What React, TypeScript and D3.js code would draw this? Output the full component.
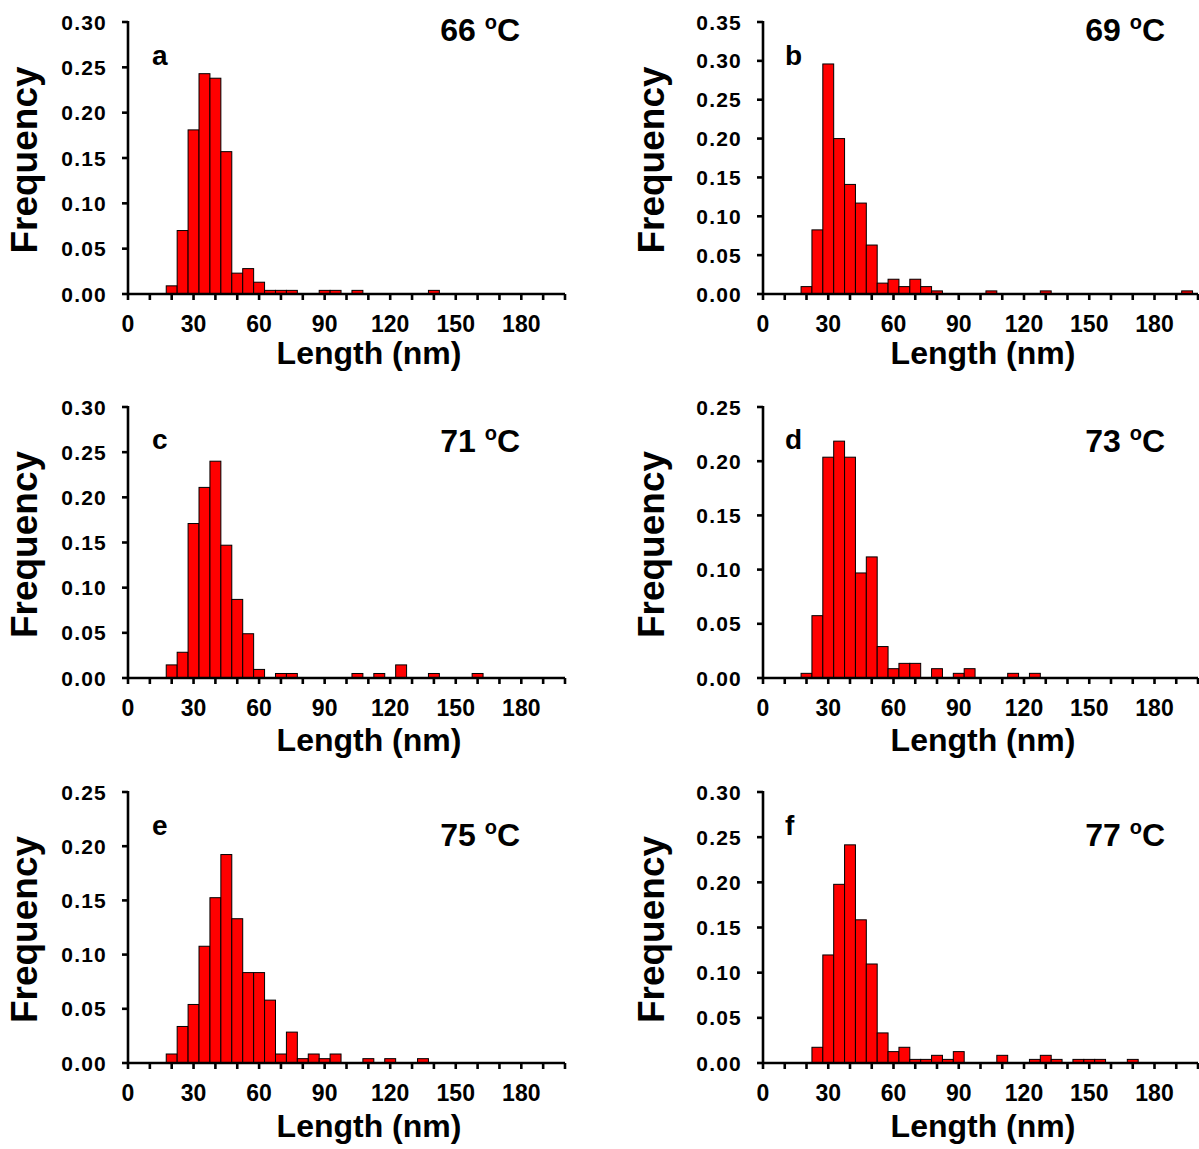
import React from 'react';
import * as d3 from 'd3';

// bin centres (nm) and frequencies
const binsA = [20, 25, 30, 35, 40, 45, 50, 55, 60, 65, 70, 75, 90, 95, 105, 140];
const freqA = [0.009, 0.07, 0.181, 0.243, 0.238, 0.157, 0.023, 0.028, 0.013, 0.004, 0.004, 0.004, 0.004, 0.004, 0.004, 0.004];

const binsB = [20, 25, 30, 35, 40, 45, 50, 55, 60, 65, 70, 75, 80, 105, 130, 195];
const freqB = [0.0095, 0.0825, 0.296, 0.2, 0.141, 0.117, 0.063, 0.014, 0.019, 0.0095, 0.019, 0.0095, 0.004, 0.004, 0.004, 0.004];

const binsC = [20, 25, 30, 35, 40, 45, 50, 55, 60, 70, 75, 105, 115, 125, 140, 160];
const freqC = [0.0145, 0.0285, 0.171, 0.211, 0.24, 0.147, 0.087, 0.049, 0.0095, 0.005, 0.005, 0.005, 0.005, 0.0145, 0.005, 0.005];

const binsD = [20, 25, 30, 35, 40, 45, 50, 55, 60, 65, 70, 80, 90, 95, 115, 125];
const freqD = [0.0043, 0.0575, 0.2037, 0.2185, 0.2037, 0.0969, 0.1117, 0.029, 0.0086, 0.0135, 0.0135, 0.0086, 0.0043, 0.0086, 0.0043, 0.0043];

const binsE = [20, 25, 30, 35, 40, 45, 50, 55, 60, 65, 70, 75, 80, 85, 90, 95, 110, 120, 135];
const freqE = [0.0083, 0.0337, 0.054, 0.1077, 0.1525, 0.1923, 0.1331, 0.0834, 0.0834, 0.058, 0.0083, 0.0285, 0.004, 0.0083, 0.004, 0.0083, 0.004, 0.004, 0.004];

const binsF = [25, 30, 35, 40, 45, 50, 55, 60, 65, 70, 75, 80, 85, 90, 110, 125, 130, 135, 145, 150, 155, 170];
const freqF = [0.0174, 0.1196, 0.1978, 0.2415, 0.1585, 0.1096, 0.0333, 0.0126, 0.0174, 0.004, 0.004, 0.0085, 0.004, 0.0126, 0.0085, 0.004, 0.0085, 0.004, 0.004, 0.004, 0.004, 0.004];

const letters = ['a', 'b', 'c', 'd', 'e', 'f'];
const temps = ['66', '69', '71', '73', '75', '77'];
const yMaxes = [0.3, 0.35, 0.3, 0.25, 0.25, 0.3];
const xTickLabels = [0, 30, 60, 90, 120, 150, 180];

const allBins = [binsA, binsB, binsC, binsD, binsE, binsF];
const allFreqs = [freqA, freqB, freqC, freqD, freqE, freqF];

/* layout */
const cols = [
  { x0: 128, x1: 565, letterX: 152, tempX: 520, freqX: 37, lenX: 369 },
  { x0: 763, x1: 1198, letterX: 785, tempX: 1165, freqX: 664, lenX: 983 },
];
const rows = [
  { top: 22, base: 294, letterDy: 43, tempDy: 19, lenDy: 70 },
  { top: 407, base: 678, letterDy: 42, tempDy: 45, lenDy: 73 },
  { top: 792, base: 1063, letterDy: 43, tempDy: 54, lenDy: 74 },
];

const font = '"Liberation Sans", Arial, sans-serif';
const red = '#FF0000';

const Panel = ({ i }: { i: number }) => {
  const col = cols[i % 2];
  const row = rows[Math.floor(i / 2)];
  const yMax = yMaxes[i];

  const x = d3.scaleLinear().domain([0, 200]).range([col.x0, col.x1]);
  const y = d3.scaleLinear().domain([0, yMax]).range([row.base, row.top]);

  const yTicks = d3.range(0, yMax + 0.0001, 0.05);
  const xTicks = d3.range(0, 201, 10);
  const bins = allBins[i];
  const freqs = allFreqs[i];

  return (
    <g fontFamily={font} fontWeight="bold" fill="#000">
      {/* bars */}
      {bins.map((b, k) => (
        <rect
          key={k}
          x={x(b - 2.5)}
          y={y(freqs[k])}
          width={x(b + 2.5) - x(b - 2.5)}
          height={row.base - y(freqs[k])}
          fill={red}
          stroke="#000"
          strokeWidth={1}
        />
      ))}

      {/* y axis */}
      <line x1={col.x0} x2={col.x0} y1={row.base + 1} y2={y(yMax) - 1} stroke="#000" strokeWidth={2.6} />
      {yTicks.map((t) => (
        <g key={t}>
          <line x1={col.x0 - 6} x2={col.x0} y1={y(t)} y2={y(t)} stroke="#000" strokeWidth={2.6} />
          <text x={col.x0 - 21} y={y(t) + 7.5} textAnchor="end" fontSize={21} letterSpacing={1.2}>
            {d3.format('.2f')(t)}
          </text>
        </g>
      ))}

      {/* x axis */}
      <line x1={col.x0 - 1} x2={col.x1} y1={row.base} y2={row.base} stroke="#000" strokeWidth={2.6} />
      {xTicks.map((t) => (
        <line key={t} x1={x(t)} x2={x(t)} y1={row.base} y2={row.base + 6} stroke="#000" strokeWidth={2.6} />
      ))}
      {xTickLabels.map((t) => (
        <text key={t} x={x(t)} y={row.base + 38} textAnchor="middle" fontSize={23}>
          {t}
        </text>
      ))}

      {/* axis titles */}
      <text
        transform={`translate(${col.freqX},${(row.top + row.base) / 2 + 2}) rotate(-90)`}
        textAnchor="middle"
        fontSize={37}
      >
        Frequency
      </text>
      <text x={col.lenX} y={row.base + row.lenDy} textAnchor="middle" fontSize={32}>
        Length (nm)
      </text>

      {/* panel letter and temperature */}
      <text x={col.letterX} y={row.top + row.letterDy} fontSize={28}>
        {letters[i]}
      </text>
      <text x={col.tempX} y={row.top + row.tempDy} textAnchor="end" fontSize={32}>
        {temps[i]}{' '}
        <tspan fontSize={20} dy={-12}>o</tspan>
        <tspan dy={12}>C</tspan>
      </text>
    </g>
  );
};

const App = () => {
  return (
    <svg
      width={1199}
      height={1149}
      style={{ position: 'absolute', left: 0, top: 0, background: '#fff' }}
    >
      {letters.map((l, i) => (
        <Panel key={l} i={i} />
      ))}
    </svg>
  );
};

export default App;
